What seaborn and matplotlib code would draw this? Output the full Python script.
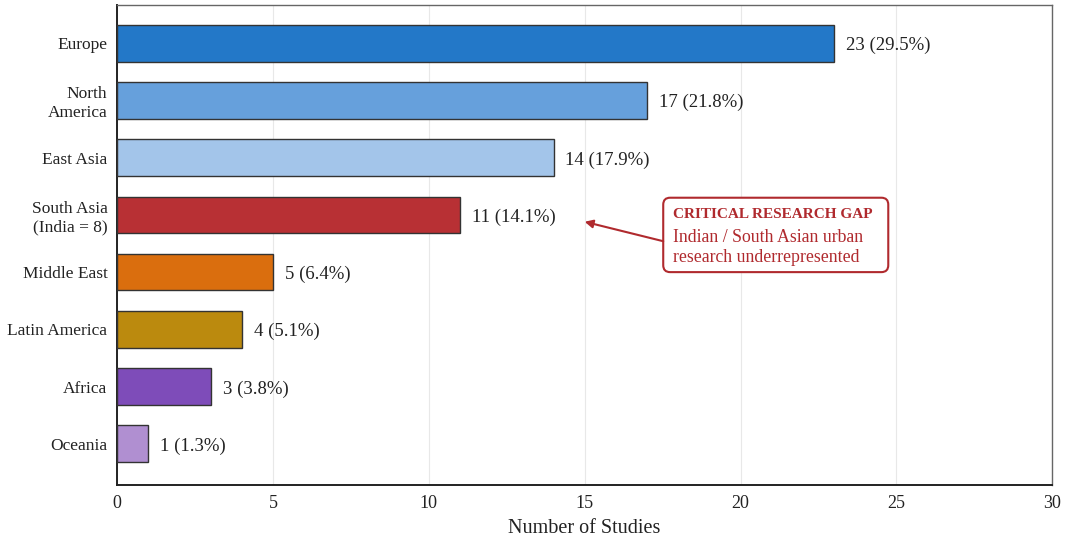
import matplotlib
matplotlib.use("Agg")
import matplotlib.pyplot as plt
from matplotlib.patches import FancyBboxPatch
import seaborn as sns
import pandas as pd

regions = ["Europe", "North\nAmerica", "East Asia", "South Asia\n(India = 8)",
           "Middle East", "Latin America", "Africa", "Oceania"]
counts = [23, 17, 14, 11, 5, 4, 3, 1]
percents = [29.5, 21.8, 17.9, 14.1, 6.4, 5.1, 3.8, 1.3]
colors = ["#2378c8", "#66a0dc", "#a3c5ea", "#b83034",
          "#da6e0e", "#bb8a0e", "#7e4cb9", "#b08fd1"]
x_ticks = [0, 5, 10, 15, 20, 25, 30]

sns.set_theme(style="white")
plt.rcParams["font.family"] = ["Liberation Serif", "DejaVu Serif"]

df = pd.DataFrame({"region": regions, "count": counts})

fig = plt.figure(figsize=(10.65, 5.41), dpi=100)
ax = fig.add_axes([0.110, 0.1035, 0.878, 0.8875])

sns.barplot(data=df, y="region", x="count", hue="region", palette=colors,
            saturation=1, orient="h", width=0.64, edgecolor="#333333",
            linewidth=1.0, legend=False, ax=ax, zorder=3)

for i, (c, p) in enumerate(zip(counts, percents)):
    ax.text(c + 0.38, i + 0.04, f"{c} ({p}%)", va="center", ha="left",
            fontsize=13.5, color="#222222")

ax.set_xlim(0, 30)
ax.set_ylim(7.72, -0.67)
ax.set_xticks(x_ticks)
ax.set_xticklabels([str(t) for t in x_ticks], fontsize=13)
ax.tick_params(axis="y", labelsize=12.5, length=0, pad=7, colors="#222222")
ax.tick_params(axis="x", length=4, width=1, direction="out", color="#333333",
               labelcolor="#222222")
ax.set_xlabel("Number of Studies", fontsize=14.5, labelpad=5, color="#222222")
ax.set_ylabel("")
ax.xaxis.grid(True, color="#e8e8e8", linewidth=0.8, zorder=0)
ax.set_axisbelow(True)

for name, sp in ax.spines.items():
    sp.set_visible(True)
    sp.set_color("#666666")
    sp.set_linewidth(1.0)
ax.spines["left"].set_color("#222222")
ax.spines["bottom"].set_color("#222222")
ax.spines["left"].set_linewidth(1.4)
ax.spines["bottom"].set_linewidth(1.4)

# callout for the South Asia gap
gap_color = "#b02a2e"
box = FancyBboxPatch((17.52, 2.70), 7.22, 1.30,
                     boxstyle="round,pad=0,rounding_size=0.22",
                     facecolor="white", edgecolor=gap_color, linewidth=1.5,
                     zorder=4, mutation_aspect=0.55)
ax.add_patch(box)
ax.annotate("", xy=(15.0, 3.12), xytext=(17.52, 3.46),
            arrowprops=dict(arrowstyle="-|>", color=gap_color, lw=1.5,
                            mutation_scale=12, shrinkA=0, shrinkB=0), zorder=5)
ax.text(17.84, 2.99, "CRITICAL RESEARCH GAP", color=gap_color,
        fontsize=11, fontweight="bold", va="center", ha="left", zorder=6)
ax.text(17.84, 3.39, "Indian / South Asian urban", color=gap_color,
        fontsize=12.8, va="center", ha="left", zorder=6)
ax.text(17.84, 3.75, "research underrepresented", color=gap_color,
        fontsize=12.8, va="center", ha="left", zorder=6)

fig.savefig("out.png", dpi=100, facecolor="white")
